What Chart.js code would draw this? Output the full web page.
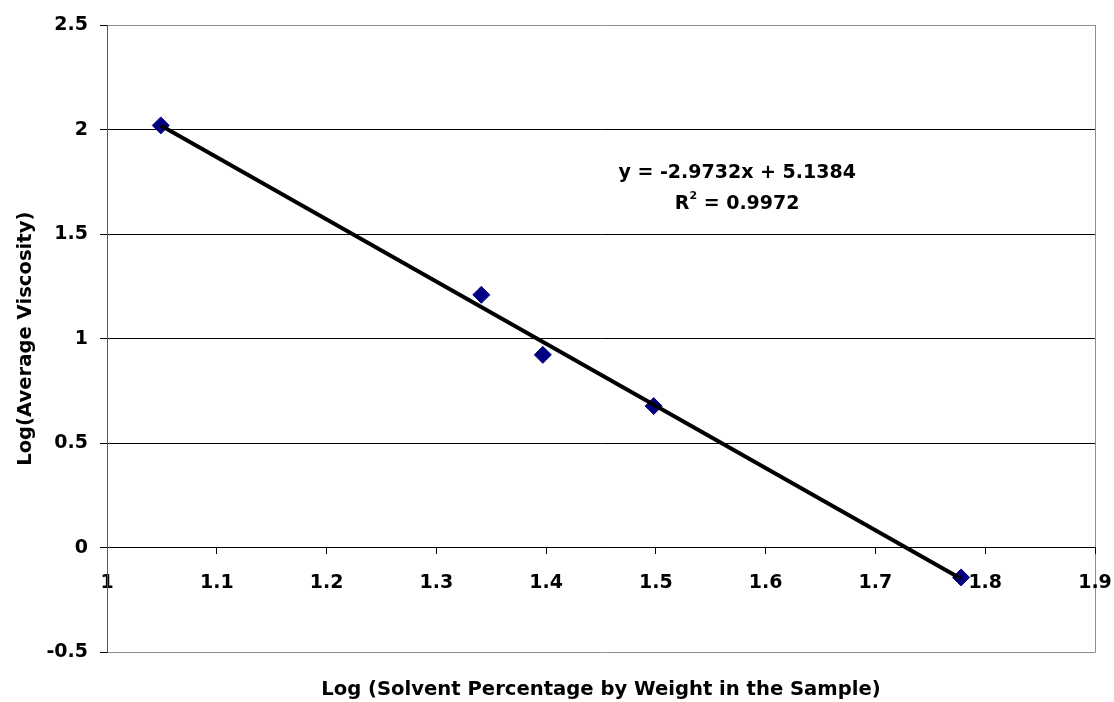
<!DOCTYPE html>
<html>
<head>
<meta charset="utf-8">
<script src="https://cdn.jsdelivr.net/npm/chart.js@4"></script>
<style>
	html, body { margin: 0; padding: 0; background: #fff; }
</style>
</head>
<body>
<canvas id="viscosity-chart" width="1114" height="702"></canvas>
<script>
// measured points: log10 of solvent % vs log10 of mean viscosity
const logSolvent = [1.049, 1.341, 1.397, 1.498, 1.778];
const logViscosity = [2.02, 1.21, 0.923, 0.678, -0.141];

// least-squares fit shown on the chart
const fitSlope = -2.9732;
const fitIntercept = 5.1384;
const fitR2 = 0.9972;

const xTicks = [1, 1.1, 1.2, 1.3, 1.4, 1.5, 1.6, 1.7, 1.8, 1.9];
const yTicks = [-0.5, 0, 0.5, 1, 1.5, 2, 2.5];

const fontFamily = "'DejaVu Sans', 'Liberation Sans', Arial, sans-serif";
const tickFont = { family: fontFamily, size: 19, weight: "bold" };
const titleFont = { family: fontFamily, size: 19.6, weight: "bold" };
const colMarker = "#000080";
const colFrame = "#8c8c8c";

const fitX = [logSolvent[0], logSolvent[logSolvent.length - 1]];
const fitPoints = fitX.map((x) => ({ x: x, y: fitSlope * x + fitIntercept }));
const points = logSolvent.map((x, i) => ({ x: x, y: logViscosity[i] }));

// equation + R² text next to the trend line
const fitLabel = {
	id: "fitLabel",
	afterDatasetsDraw(chart) {
		const { ctx, scales } = chart;
		const cx = scales.x.getPixelForValue(1.574);
		const y1 = scales.y.getPixelForValue(1.77);
		const y2 = scales.y.getPixelForValue(1.622);
		const big = "bold 19px " + fontFamily;
		const small = "bold 11px " + fontFamily;

		ctx.save();
		ctx.fillStyle = "#000";
		ctx.textBaseline = "alphabetic";
		ctx.font = big;
		ctx.textAlign = "center";
		ctx.fillText("y = " + fitSlope + "x + " + fitIntercept, cx, y1);

		const rest = " = " + fitR2;
		const wR = ctx.measureText("R").width;
		const wRest = ctx.measureText(rest).width;
		ctx.font = small;
		const wSup = ctx.measureText("2").width;
		let left = cx - (wR + wSup + wRest) / 2;
		ctx.textAlign = "left";
		ctx.font = big;
		ctx.fillText("R", left, y2);
		ctx.font = small;
		ctx.fillText("2", left + wR, y2 - 10);
		ctx.font = big;
		ctx.fillText(rest, left + wR + wSup, y2);
		ctx.restore();
	},
};

new Chart(document.getElementById("viscosity-chart"), {
	type: "scatter",
	data: {
		datasets: [
			{
				label: "Linear fit",
				data: fitPoints,
				showLine: true,
				borderColor: "#000",
				borderWidth: 4,
				pointRadius: 0,
				order: 0,
			},
			{
				label: "Log(Average Viscosity)",
				data: points,
				pointStyle: "rectRot",
				pointRadius: 8.5,
				backgroundColor: colMarker,
				borderColor: colMarker,
				borderWidth: 1,
				order: 1,
			},
		],
	},
	options: {
		responsive: false,
		animation: false,
		devicePixelRatio: 1,
		layout: {
			padding: { top: 25, right: 19, left: 0, bottom: 0 },
		},
		plugins: {
			legend: { display: false },
			tooltip: { enabled: false },
			title: {
				display: true,
				position: "bottom",
				fullSize: false,
				text: "Log (Solvent Percentage by Weight in the Sample)",
				font: titleFont,
				color: "#000",
				padding: { top: 26, bottom: 0 },
			},
		},
		scales: {
			x: {
				type: "linear",
				position: { y: 0 },
				min: 1,
				max: 1.9,
				afterBuildTicks: (s) => {
					s.ticks = xTicks.map((v) => ({ value: v }));
				},
				// end labels may overhang; don't let them shrink the plot
				afterFit: (s) => {
					s.paddingLeft = 0;
					s.paddingRight = 0;
				},
				ticks: {
					font: tickFont,
					color: "#000",
					padding: 18,
					maxRotation: 0,
					autoSkip: false,
					callback: (v) => String(v),
				},
				grid: {
					color: (c) => (c.tick && c.tick.value === 1.9 ? colFrame : "rgba(0,0,0,0)"),
					tickColor: "#000",
					tickLength: 6,
				},
				border: { color: "#000", width: 1 },
			},
			y: {
				type: "linear",
				min: -0.5,
				max: 2.5,
				afterBuildTicks: (s) => {
					s.ticks = yTicks.map((v) => ({ value: v }));
				},
				afterFit: (s) => {
					s.width = 107;
				},
				ticks: {
					font: tickFont,
					color: "#000",
					padding: 12,
					callback: (v) => String(v),
				},
				grid: {
					color: (c) => (c.tick && (c.tick.value === 2.5 || c.tick.value === -0.5) ? colFrame : "#000"),
					tickColor: "#000",
					tickLength: 7,
				},
				border: { color: "#555", width: 1 },
				title: {
					display: true,
					text: "Log(Average Viscosity)",
					font: titleFont,
					color: "#000",
					padding: { top: 14, bottom: 0 },
				},
			},
		},
	},
	plugins: [fitLabel],
});
</script>
</body>
</html>
